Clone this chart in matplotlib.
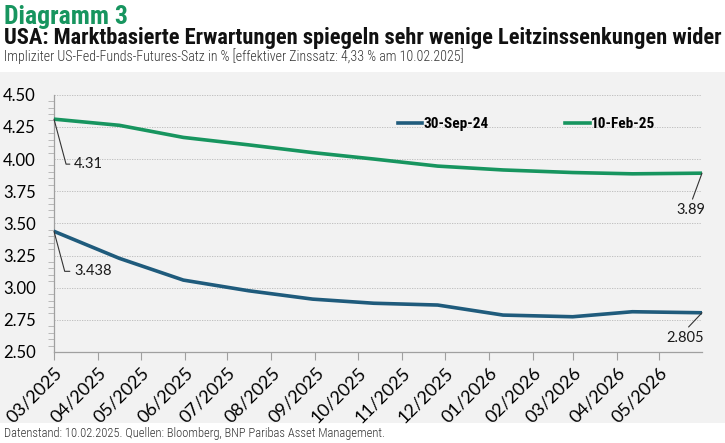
import numpy as np
import pandas as pd
import matplotlib
matplotlib.use("Agg")
import matplotlib.pyplot as plt
from matplotlib.patches import Rectangle
from matplotlib.lines import Line2D

plt.rcParams['font.family'] = ['Lato', 'DejaVu Sans']
cond = ['Roboto Condensed', 'DejaVu Sans']

# data
dates = pd.to_datetime(["2025-03-01", "2025-04-16", "2025-05-31", "2025-07-16",
                        "2025-08-30", "2025-10-12", "2025-11-26", "2026-01-11",
                        "2026-03-01", "2026-04-12", "2026-05-31"])
sep24 = [3.438, 3.228, 3.059, 2.976, 2.911, 2.879, 2.865, 2.787, 2.774, 2.813, 2.805]
feb25 = [4.31, 4.262, 4.168, 4.11, 4.05, 4.0, 3.945, 3.915, 3.895, 3.885, 3.89]
series_names = ["30-Sep-24", "10-Feb-25"]
tick_months = pd.date_range("2025-03-01", "2026-05-01", freq="MS")

blue = "#1f5b7c"
green = "#17955f"
bg = "#f2f2f2"

fig = plt.figure(figsize=(7.25, 4.43), dpi=100)
fig.patch.set_facecolor("white")
fig.patches.append(Rectangle((0, 1 - 423/443), 1, (423 - 72)/443,
                             transform=fig.transFigure, facecolor=bg,
                             edgecolor="none", zorder=-5))

ax = fig.add_axes([54/725, 1 - 352/443, 648/725, (352 - 94.7)/443])
ax.set_facecolor(bg)

ax.plot(dates, sep24, color=blue, lw=2.6, solid_capstyle="round", zorder=3)
ax.plot(dates, feb25, color=green, lw=2.6, solid_capstyle="round", zorder=3)

ax.set_ylim(2.5, 4.5)
ax.set_yticks(np.arange(2.5, 4.51, 0.25))
ax.set_yticks(np.arange(2.5, 4.51, 0.05), minor=True)
ax.yaxis.set_major_formatter(matplotlib.ticker.FormatStrFormatter("%.2f"))
ax.set_xlim(dates[0], dates[-1])
ax.set_xticks(tick_months)
ax.set_xticklabels([d.strftime("%m/%Y") for d in tick_months], rotation=45,
                   ha="right", rotation_mode="anchor", fontsize=13)
ax.tick_params(axis="x", length=6, color="#a0a0a0", pad=3)
ax.tick_params(axis="y", which="major", length=0, labelsize=12, pad=13)
ax.tick_params(axis="y", which="minor", length=4, color="#b0b0b0")

ax.grid(axis="y", which="major", color="#b8b8b8", lw=0.6, ls=(0, (1.5, 1.5)))
for s in ["top", "right"]:
    ax.spines[s].set_visible(False)
for s in ["left", "bottom"]:
    ax.spines[s].set_color("#a0a0a0")
    ax.spines[s].set_linewidth(0.9)

# leader-line labels
lab_kw = dict(textcoords="offset pixels", fontsize=10.5, color="#1a1a1a",
              annotation_clip=False)
ax.annotate(f"{feb25[0]:.2f}", (dates[0], feb25[0]), xytext=(20, -45),
            ha="left", va="center",
            arrowprops=dict(arrowstyle="-", color="#333333", lw=0.8,
                            relpos=(0, 0.5), shrinkA=1, shrinkB=0,
                            connectionstyle="angle,angleA=0,angleB=105,rad=0"),
            **lab_kw)
ax.annotate(f"{sep24[0]:.3f}", (dates[0], sep24[0]), xytext=(20, -40),
            ha="left", va="center",
            arrowprops=dict(arrowstyle="-", color="#333333", lw=0.8,
                            relpos=(0, 0.5), shrinkA=1, shrinkB=0,
                            connectionstyle="angle,angleA=0,angleB=105,rad=0"),
            **lab_kw)
ax.annotate(f"{feb25[-1]:.2f}", (dates[-1], feb25[-1]), xytext=(-11, -37),
            ha="center", va="center",
            arrowprops=dict(arrowstyle="-", color="#333333", lw=0.8,
                            relpos=(0.5, 1), shrinkA=1, shrinkB=0),
            **lab_kw)
ax.annotate(f"{sep24[-1]:.3f}", (dates[-1], sep24[-1]), xytext=(-17, -25),
            ha="center", va="center",
            arrowprops=dict(arrowstyle="-", color="#333333", lw=0.8,
                            relpos=(0.5, 1), shrinkA=1, shrinkB=0),
            **lab_kw)

handles = [Line2D([], [], color=blue, lw=2.6), Line2D([], [], color=green, lw=2.6)]
ax.legend(handles, series_names, loc="center left", bbox_to_anchor=(0.509, 0.886),
          ncol=2, frameon=False, handlelength=1.6, handletextpad=0.1,
          columnspacing=5.0, prop=dict(family=cond, size=11, weight="bold"))

fig.text(0.005, 1 - 17/443, "Diagramm 3", fontsize=18.5, fontweight="bold",
         color=green, va="center", ha="left", family=cond)
fig.text(0.005, 1 - 38/443,
         "USA: Marktbasierte Erwartungen spiegeln sehr wenige Leitzinssenkungen wider",
         fontsize=16.2, fontweight="bold", color="#111111", va="center", ha="left",
         family=cond)
fig.text(0.005, 1 - 56/443,
         "Impliziter US-Fed-Funds-Futures-Satz in % [effektiver Zinssatz: 4,33 % am 10.02.2025]",
         fontsize=10, fontweight="light", color="#333333", va="center", ha="left",
         family=cond)
fig.text(0.005, 1 - 433/443,
         "Datenstand: 10.02.2025. Quellen: Bloomberg, BNP Paribas Asset Management.",
         fontsize=9, fontweight="light", color="#333333", va="center", ha="left",
         family=cond)

fig.savefig("out.png", dpi=100)
